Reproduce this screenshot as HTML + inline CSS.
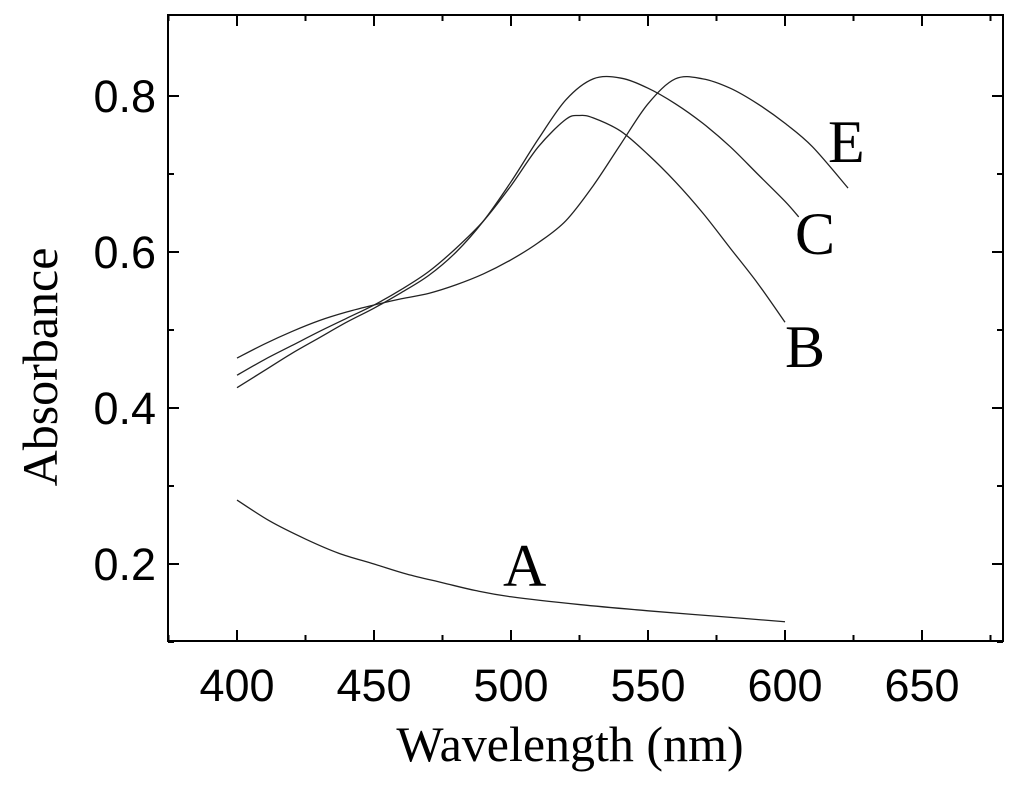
<!DOCTYPE html>
<html><head><meta charset="utf-8"><style>
body{margin:0;background:#fff;}
svg{display:block;}
</style></head><body>
<svg id="chart" width="1024" height="791" xmlns="http://www.w3.org/2000/svg">
<rect x="168" y="15" width="835" height="626" fill="none" stroke="#000" stroke-width="2"/>
<g id="ticks"></g>
<g id="series"></g>
<text x="828" y="162" font-family="Liberation Serif, serif" font-size="60">E</text>
<text x="795" y="254" font-family="Liberation Serif, serif" font-size="60">C</text>
<text x="785" y="367" font-family="Liberation Serif, serif" font-size="60">B</text>
<text x="503" y="586" font-family="Liberation Serif, serif" font-size="60">A</text>
<text x="570" y="761" text-anchor="middle" font-family="Liberation Serif, serif" font-size="50">Wavelength (nm)</text>
<text transform="translate(57,367) rotate(-90)" text-anchor="middle" font-family="Liberation Serif, serif" font-size="50">Absorbance</text>
</svg>
<script>
const xTicks=[400,450,500,550,600,650];
const yTicks=[0.2,0.4,0.6,0.8];
const wlA=[400,412,425,437,450,462,475,487,500,525,550,575,600];
const absA=[0.282,0.255,0.232,0.214,0.2,0.187,0.176,0.166,0.158,0.148,0.14,0.133,0.126];
const wlB=[400,410,420,430,440,450,460,470,480,490,500,510,520,525,530,540,550,560,570,580,590,600];
const absB=[0.442,0.462,0.48,0.498,0.515,0.532,0.552,0.575,0.605,0.64,0.685,0.735,0.77,0.775,0.772,0.755,0.725,0.69,0.65,0.605,0.56,0.51];
const wlC=[400,410,420,430,440,450,460,470,480,490,500,510,520,530,540,550,560,570,580,590,600,605];
const absC=[0.426,0.448,0.47,0.49,0.51,0.528,0.548,0.57,0.6,0.64,0.69,0.745,0.795,0.822,0.823,0.81,0.79,0.765,0.735,0.7,0.665,0.645];
const wlE=[400,410,420,430,440,450,460,470,480,490,500,510,520,530,540,550,560,570,580,590,600,610,623];
const absE=[0.464,0.482,0.498,0.512,0.523,0.532,0.54,0.547,0.558,0.572,0.59,0.612,0.64,0.685,0.738,0.79,0.822,0.822,0.81,0.79,0.765,0.735,0.682];
const X=v=>237+(v-400)*137/50;
const Y=v=>96+(0.8-v)*780;
const NS='http://www.w3.org/2000/svg';
const tk=document.getElementById('ticks');
function line(x1,y1,x2,y2){const l=document.createElementNS(NS,'line');l.setAttribute('x1',x1);l.setAttribute('y1',y1);l.setAttribute('x2',x2);l.setAttribute('y2',y2);l.setAttribute('stroke','#000');l.setAttribute('stroke-width','2');


tk.appendChild(l);}
function txt(x,y,s,anchor){const t=document.createElementNS(NS,'text');t.setAttribute('x',x);t.setAttribute('y',y);t.setAttribute('text-anchor',anchor);t.setAttribute('font-family','Liberation Sans, sans-serif');t.setAttribute('font-size','45');t.textContent=s;


tk.appendChild(t);}
for(let v=375;v<=675;v+=25){const x=X(v);const maj=v%50===0;const L=maj?11:6;line(x,641,x,641-L);line(x,15,x,15+L);}
xTicks.forEach(v=>txt(X(v),701,String(v),'middle'));
for(let i=1;i<=8;i++){const v=i*0.1;const y=Y(v);const maj=i%2===0;const L=maj?11:6;line(168,y,168+L,y);line(1003,y,1003-L,y);}
yTicks.forEach(v=>txt(156,Y(v)+16,v.toFixed(1),'end'));
const sg=document.getElementById('series');
function path(xs,ys,name){const p=xs.map((x,i)=>[X(x),Y(ys[i])]);let d='M'+p[0][0]+','+p[0][1];
for(let i=0;i<p.length-1;i++){const p0=p[Math.max(0,i-1)],p1=p[i],p2=p[i+1],p3=p[Math.min(p.length-1,i+2)];
d+=' C'+(p1[0]+(p2[0]-p0[0])/6)+','+(p1[1]+(p2[1]-p0[1])/6)+' '+(p2[0]-(p3[0]-p1[0])/6)+','+(p2[1]-(p3[1]-p1[1])/6)+' '+p2[0]+','+p2[1];}
const e=document.createElementNS(NS,'path');e.setAttribute('d',d);e.setAttribute('fill','none');e.setAttribute('stroke','#222');e.setAttribute('stroke-width','1.3');


sg.appendChild(e);}
path(wlA,absA,'series-a');path(wlB,absB,'series-b');path(wlC,absC,'series-c');path(wlE,absE,'series-e');
</script>
</body></html>
